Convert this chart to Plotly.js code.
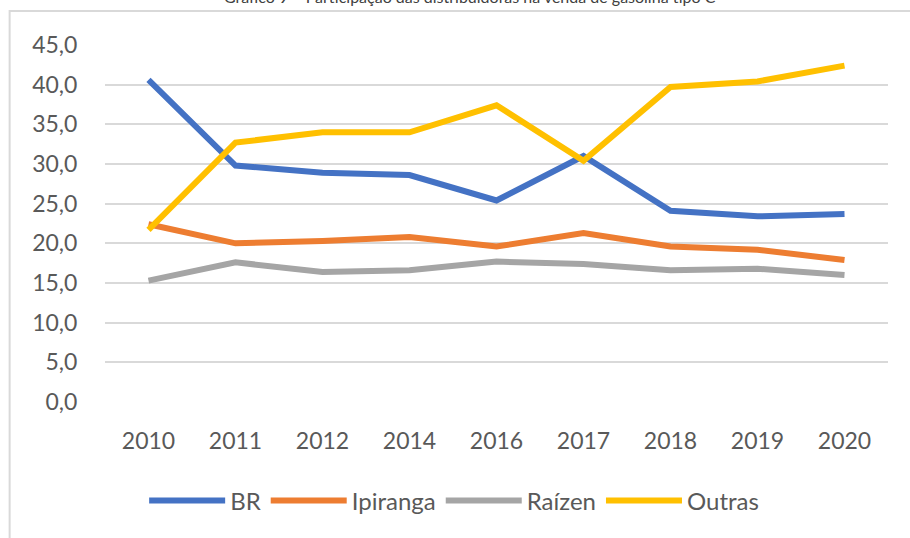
<!DOCTYPE html>
<html>
<head>
<meta charset="utf-8">
<script src="https://cdn.plot.ly/plotly-3.0.1.min.js"></script>
<style>html,body{margin:0;padding:0;background:#fff;}#chart{width:910px;height:538px;}</style>
</head>
<body>
<div id="chart"></div>
<script>
const years = ["2010","2011","2012","2014","2016","2017","2018","2019","2020"];
const br       = [40.6, 29.8, 28.9, 28.6, 25.4, 31.0, 24.1, 23.4, 23.7];
const ipiranga = [22.4, 20.0, 20.3, 20.8, 19.6, 21.3, 19.6, 19.2, 17.9];
const raizen   = [15.3, 17.6, 16.4, 16.6, 17.7, 17.4, 16.6, 16.8, 16.0];
const outras   = [21.7, 32.7, 34.0, 34.0, 37.4, 30.4, 39.7, 40.4, 42.4];
const seriesNames = ["BR","Ipiranga","Raízen","Outras"];
const titleText = "Gráfico 9 – Participação das distribuidoras na venda de gasolina tipo C";

const colors = ["#4472C4","#ED7D31","#A5A5A5","#FFC000"];
const values = [br, ipiranga, raizen, outras];
const font = "Lato, 'Open Sans', sans-serif";

const traces = values.map((v,i)=>({
  type:"scatter", mode:"lines", x:years, y:v, name:seriesNames[i],
  line:{color:colors[i], width:6}
}));

const layout = {
  width:910, height:538,
  margin:{l:104.5, r:21.5, t:45, b:136},
  paper_bgcolor:"#fff", plot_bgcolor:"#fff",
  separators:", ",
  font:{family:font, color:"#595959", size:23},
  showlegend:true,
  legend:{orientation:"h", x:0.05, xanchor:"left", y:-0.2773, yanchor:"middle",
          itemwidth:76, font:{family:font, size:24, color:"#595959"}, traceorder:"normal"},
  xaxis:{type:"category", range:[-0.5,8.5], showgrid:false, zeroline:false, showline:false,
         ticks:"outside", ticklen:18, tickcolor:"rgba(0,0,0,0)",
         tickfont:{family:font, size:23, color:"#595959"}},
  yaxis:{range:[0,45], dtick:5, tick0:0, tickformat:".1f", showgrid:true, gridcolor:"#D9D9D9", gridwidth:2,
         zeroline:false, showline:false, ticks:"outside", ticklen:22, tickcolor:"rgba(0,0,0,0)",
         tickfont:{family:font, size:23, color:"#595959"}},
  shapes:[{type:"rect", xref:"paper", yref:"paper", x0:-0.1218, x1:1.05, y0:-0.4, y1:1.0952,
           line:{color:"#D9D9D9", width:2}, fillcolor:"rgba(0,0,0,0)", layer:"below"}],
  annotations:[{text:titleText, xref:"paper", yref:"paper", x:(470-104.5)/784, y:1.1036,
                xanchor:"center", yanchor:"bottom", showarrow:false,
                font:{family:font, size:16, color:"#404040"}}]
};

Plotly.newPlot("chart", traces, layout, {displayModeBar:false, staticPlot:true});
</script>
</body>
</html>
